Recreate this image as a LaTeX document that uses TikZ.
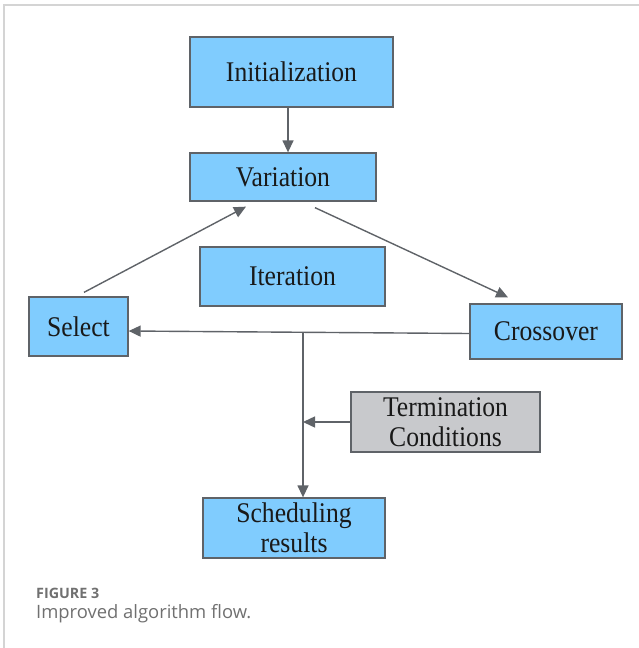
\documentclass[tikz,border=0pt]{standalone}
\usepackage{fontspec}
\setmainfont{Liberation Serif}
\newfontfamily\boxfont[FakeStretch=0.9]{Liberation Serif}
\newfontfamily\capfont{Open Sans}
\usetikzlibrary{arrows.meta,calc}
\definecolor{boxblue}{HTML}{80CCFE}
\definecolor{boxgray}{HTML}{C8C9CC}
\definecolor{edgegray}{HTML}{5F6368}
\definecolor{framegray}{HTML}{D4D4D4}
\definecolor{captext}{HTML}{707070}
\tikzset{
  stepbox/.style={draw=edgegray, line width=1.3pt, fill=boxblue, inner sep=0pt,
    font=\boxfont\fontsize{28.5}{30}\selectfont, align=center, text=black!90},
  condbox/.style={stepbox, fill=boxgray},
  flow/.style={draw=edgegray, line width=1.4pt,
    -{Triangle[length=12pt,width=11pt]}},
}
\begin{document}
\begin{tikzpicture}[x=1pt,y=-1pt]
  \useasboundingbox (0,0) rectangle (639,648);
  % page frame
  \draw[framegray, line width=2pt] (4,648) -- (4,5) -- (639,5);

  % process boxes
  \node[stepbox, minimum width=203pt, minimum height=70pt] (init)  at (291.5,72)  {Initialization};
  \node[stepbox, minimum width=186pt, minimum height=48pt] (var)   at (283,177)   {Variation};
  \node[stepbox, minimum width=185pt, minimum height=59pt] (iter)  at (292.5,276.5) {Iteration};
  \node[stepbox, minimum width=99pt,  minimum height=59pt] (sel)   at (78.5,326.5) {Select};
  \node[stepbox, minimum width=152pt, minimum height=55pt] (cross) at (546,331.5)  {Crossover};
  \node[condbox, minimum width=189pt, minimum height=60pt] (term)  at (445.5,422)  {Termination\\Conditions};
  \node[stepbox, minimum width=182pt, minimum height=60pt] (sched) at (294,528)    {Scheduling\\results};

  % connector end points
  \coordinate (initout) at ($(init.south)+(-3.5,0)$);
  \coordinate (varout)  at ($(var.south)+(32,6)$);
  \coordinate (crossin) at ($(cross.north)+(-38,-6)$);
  \coordinate (selout)  at ($(sel.north)+(5.5,-4)$);
  \coordinate (varin)   at ($(var.south)+(-37,5)$);
  \coordinate (crossout) at ($(cross.west)+(0,2)$);
  \coordinate (selin)   at ($(sel.east)+(0,4.5)$);
  \coordinate (branch)  at (303,333);

  % connectors
  \draw[flow] (initout) -- (initout |- var.north);
  \draw[flow] (varout) -- (crossin);
  \draw[flow] (selout) -- (varin);
  \draw[flow] (crossout) -- (selin);
  \draw[flow] (branch) -- (branch |- sched.north);
  \draw[flow] (term.west) -- (term.west -| branch);

  % caption
  \node[anchor=base west, inner sep=0pt, text=captext, font=\capfont\fontsize{14.3}{14.3}\selectfont\bfseries] (fig) at (36,598) {FIGURE 3};
  \node[anchor=base west, inner sep=0pt, text=captext, font=\capfont\fontsize{18.4}{18.4}\selectfont] (capt) at (36,618) {Improved algorithm flow.};
\end{tikzpicture}
\end{document}
